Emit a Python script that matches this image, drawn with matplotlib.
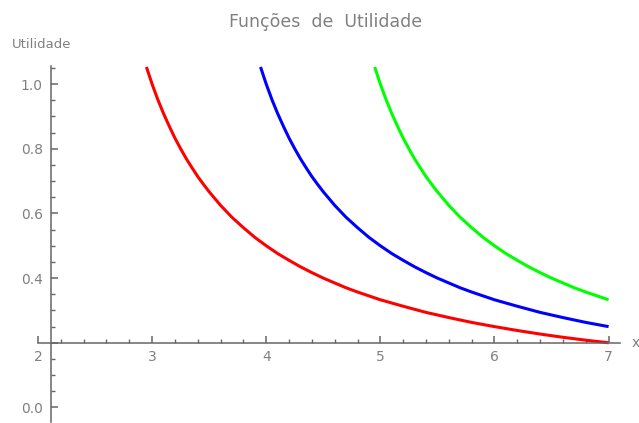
import matplotlib.pyplot as plt
from matplotlib.ticker import MultipleLocator, FixedLocator

# values
x_red = [2.95, 3.0, 3.05, 3.1, 3.15, 3.2, 3.25, 3.3, 3.35, 3.4, 3.45, 3.5, 3.6, 3.7, 3.8, 3.9,
         4.0, 4.1, 4.2, 4.3, 4.4, 4.5, 4.6, 4.7, 4.8, 4.9, 5.0, 5.2, 5.4, 5.6, 5.8, 6.0,
         6.2, 6.4, 6.6, 6.8, 7.0]
y_red = [1.053, 1.0, 0.952, 0.909, 0.870, 0.833, 0.800, 0.769, 0.741, 0.714, 0.690, 0.667, 0.625,
         0.588, 0.556, 0.526, 0.500, 0.476, 0.455, 0.435, 0.417, 0.400, 0.385, 0.370, 0.357,
         0.345, 0.333, 0.313, 0.294, 0.278, 0.263, 0.250, 0.238, 0.227, 0.217, 0.208, 0.200]

x_blue = [3.95, 4.0, 4.05, 4.1, 4.15, 4.2, 4.25, 4.3, 4.35, 4.4, 4.45, 4.5, 4.6, 4.7, 4.8, 4.9,
          5.0, 5.1, 5.2, 5.3, 5.4, 5.5, 5.6, 5.7, 5.8, 5.9, 6.0, 6.2, 6.4, 6.6, 6.8, 7.0]
y_blue = [1.053, 1.0, 0.952, 0.909, 0.870, 0.833, 0.800, 0.769, 0.741, 0.714, 0.690, 0.667, 0.625,
          0.588, 0.556, 0.526, 0.500, 0.476, 0.455, 0.435, 0.417, 0.400, 0.385, 0.370, 0.357,
          0.345, 0.333, 0.313, 0.294, 0.278, 0.263, 0.250]

x_green = [4.95, 5.0, 5.05, 5.1, 5.15, 5.2, 5.25, 5.3, 5.35, 5.4, 5.45, 5.5, 5.6, 5.7, 5.8, 5.9,
           6.0, 6.1, 6.2, 6.3, 6.4, 6.5, 6.6, 6.7, 6.8, 6.9, 7.0]
y_green = [1.053, 1.0, 0.952, 0.909, 0.870, 0.833, 0.800, 0.769, 0.741, 0.714, 0.690, 0.667, 0.625,
           0.588, 0.556, 0.526, 0.500, 0.476, 0.455, 0.435, 0.417, 0.400, 0.385, 0.370, 0.357,
           0.345, 0.333]

x_ticks = [2, 3, 4, 5, 6, 7]
y_ticks = [0.0, 0.4, 0.6, 0.8, 1.0]

axis_col = '#666666'
text_col = '#808080'

fig = plt.figure(figsize=(6.39, 4.23), dpi=100)
ax = fig.add_axes([38 / 639, 1 / 423, 582 / 639, 356 / 423])

for xs, ys, c in [(x_red, y_red, '#ff0000'), (x_blue, y_blue, '#0000ff'), (x_green, y_green, '#00ff00')]:
    ax.plot(xs, ys, color=c, lw=2.2, solid_capstyle='butt', solid_joinstyle='round', clip_on=False)

ax.set_xlim(2, 7.1)
ax.set_ylim(-0.045, 1.056)

for s in ['top', 'right']:
    ax.spines[s].set_visible(False)
ax.spines['left'].set_position(('data', 2.114))
ax.spines['bottom'].set_position(('data', 0.2))
for s in ['left', 'bottom']:
    ax.spines[s].set_color(axis_col)
    ax.spines[s].set_linewidth(1.1)

ax.xaxis.set_major_locator(FixedLocator(x_ticks))
ax.yaxis.set_major_locator(FixedLocator(y_ticks + [0.2]))
ax.set_yticklabels(['0.0', '0.4', '0.6', '0.8', '1.0', ''])
ax.xaxis.set_minor_locator(MultipleLocator(0.2))
ax.yaxis.set_minor_locator(MultipleLocator(0.05))

ax.tick_params(which='both', direction='in', color=axis_col, labelcolor=text_col, labelsize=10)
ax.tick_params(which='major', length=5, width=1.1)
ax.tick_params(which='minor', length=3, width=1)
ax.tick_params(axis='y', pad=6)
ax.tick_params(axis='x', pad=5)

ax.set_facecolor('none')
fig.text(326 / 639, 1 - 22 / 423, 'Funções  de  Utilidade', ha='center', va='center',
         color=text_col, fontsize=12.5)
fig.text(12 / 639, 1 - 44 / 423, 'Utilidade', ha='left', va='center', color=text_col, fontsize=9.5)
fig.text(632 / 639, 1 - 343 / 423, 'x', ha='left', va='center', color=text_col, fontsize=10)

fig.savefig('out.png', dpi=100)
